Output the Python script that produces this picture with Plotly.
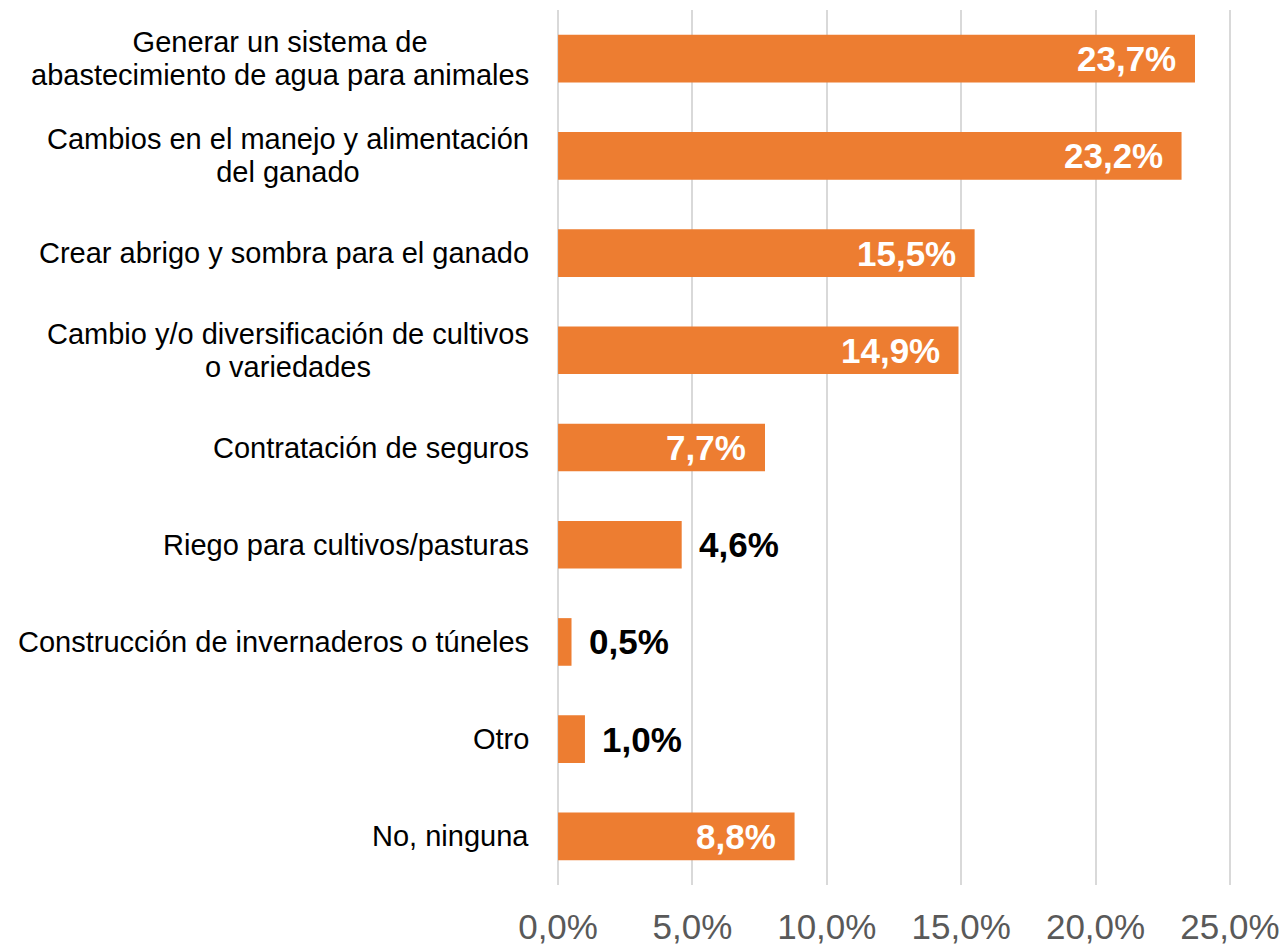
import plotly.graph_objects as go

categories = [
    "Generar un sistema de<br>abastecimiento de agua para animales",
    "Cambios en el manejo y alimentación<br>del ganado",
    "Crear abrigo y sombra para el ganado",
    "Cambio y/o diversificación de cultivos<br>o variedades",
    "Contratación de seguros",
    "Riego para cultivos/pasturas",
    "Construcción de invernaderos o túneles",
    "Otro",
    "No, ninguna",
]
values = [23.7, 23.2, 15.5, 14.9, 7.7, 4.6, 0.5, 1.0, 8.8]
label_inside = [True, True, True, True, True, False, False, False, True]
x_ticks = [0, 5, 10, 15, 20, 25]
x_tick_labels = ["0,0%", "5,0%", "10,0%", "15,0%", "20,0%", "25,0%"]

BAR = "#ED7D31"
FONT = "Liberation Sans, Arial, sans-serif"
CAT_SIZE = 29
LINE_BASE = 25.4  # base size that sets the 1.3em line pitch of wrapped labels

fig = go.Figure(
    go.Bar(
        x=values,
        y=list(range(len(categories))),
        orientation="h",
        marker=dict(color=BAR, line=dict(width=0)),
        width=0.49,
        hoverinfo="skip",
    )
)

annotations = []
# category labels: lines centred within the block, block right-aligned to the axis
for i, cat in enumerate(categories):
    lines = cat.split("<br>")
    text = "<br>".join(f'<span style="font-size:{CAT_SIZE}px">{ln}</span>' for ln in lines)
    annotations.append(dict(
        x=0, xref="paper", y=i, yref="y",
        text=text, showarrow=False,
        xanchor="right", yanchor="middle", align="center",
        xshift=-26,
        font=dict(family=FONT, size=LINE_BASE, color="#000000"),
    ))

# value labels: white inside the long bars, black past the short ones
for i, (v, inside) in enumerate(zip(values, label_inside)):
    txt = f"{v:.1f}".replace(".", ",") + "%"
    annotations.append(dict(
        x=v, xref="x", y=i, yref="y",
        text=f"<b>{txt}</b>", showarrow=False,
        xanchor="right" if inside else "left", yanchor="middle",
        xshift=-17 if inside else 15,
        font=dict(family=FONT, size=35, color="#FFFFFF" if inside else "#000000"),
    ))

fig.update_layout(
    width=1288, height=948,
    margin=dict(l=557, r=57, t=10, b=63),
    paper_bgcolor="white", plot_bgcolor="white",
    showlegend=False,
    annotations=annotations,
    xaxis=dict(
        range=[-0.04, 25.04],
        tickvals=x_ticks, ticktext=x_tick_labels,
        showgrid=True, gridcolor="#D9D9D9", gridwidth=1.5,
        zeroline=False, showline=False,
        ticks="", ticklabelstandoff=18,
        tickfont=dict(family=FONT, size=35, color="#595959"),
        automargin=False,
    ),
    yaxis=dict(
        range=[8.5, -0.5],
        showticklabels=False, showgrid=False, zeroline=False, showline=False,
        automargin=False,
    ),
)

fig.write_html("out.html")
